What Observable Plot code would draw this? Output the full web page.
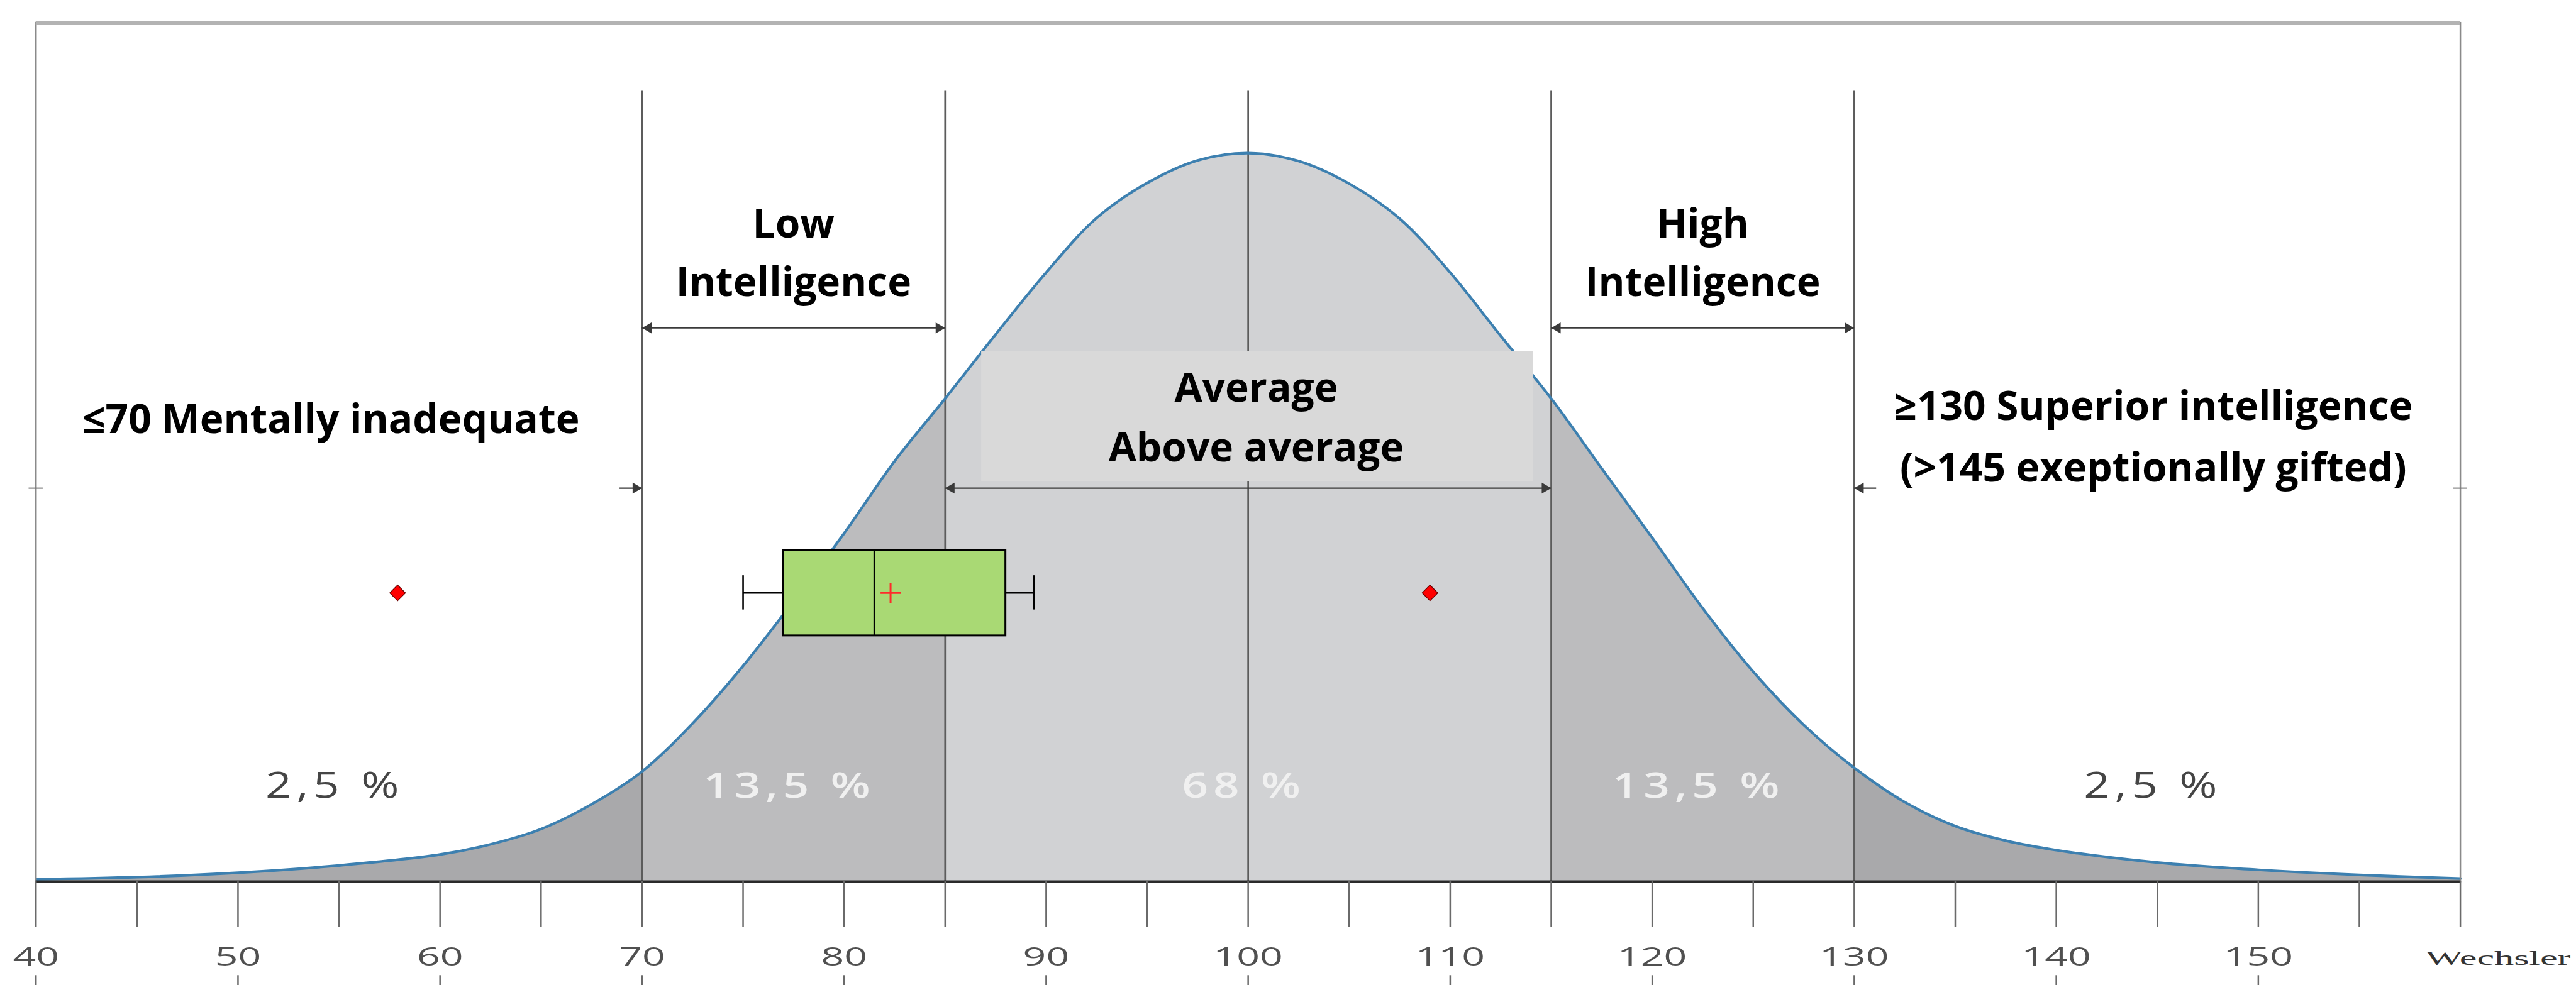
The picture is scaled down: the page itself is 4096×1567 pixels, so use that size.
<!DOCTYPE html>
<html><head><meta charset="utf-8">
<script src="https://cdn.jsdelivr.net/npm/d3@7"></script>
<script src="https://cdn.jsdelivr.net/npm/@observablehq/plot@0.6"></script>
<style>html,body{margin:0;padding:0;background:#fff;overflow:hidden}#chart svg{display:block}</style>
</head><body><div id="chart"></div>
<script>
// ---------- data ----------
// IQ (Wechsler) scores and curve height, in % of the peak height
const iqScore = [40,45,50,55,60,62.5,65,67.5,70,72.5,75,77.5,80,82.5,85,87.5,90,92.5,95,97.5,100,102.5,105,107.5,110,112.5,115,117.5,120,122.5,125,127.5,130,132.5,135,137.5,140,145,150,155,160];
const curveHeight = [0.3,0.6,1.2,2.2,3.7,5.1,7.2,10.6,15.1,21.7,29.6,38.5,47.8,57.7,66.3,75.1,83.6,91.1,95.9,99.0,100,98.9,95.8,91.0,83.6,74.9,66.3,56.7,47.2,37.5,28.8,21.5,15.6,10.9,7.6,5.6,4.3,2.6,1.6,0.9,0.4];
const zoneEdges = [40,70,85,115,130,160];
const zoneShare = ["2,5 %","13,5 %","68 %","13,5 %","2,5 %"];
const dividers = [70,85,100,115,130];
// box plot of the sample
const whiskerLow = 75, q1 = 77, median = 81.5, q3 = 88, whiskerHigh = 89.4, meanScore = 82.3;
const outliers = [57.9, 109.0];
// texts
const lowLabel = ["Low","Intelligence"];
const highLabel = ["High","Intelligence"];
const avgLabel = ["Average","Above average"];
const leftLabel = ["≤70 Mentally inadequate"];
const rightLabel = ["≥130 Superior intelligence","(>145 exeptionally gifted)"];
const xTicks = [40,45,50,55,60,65,70,75,80,85,90,95,100,105,110,115,120,125,130,135,140,145,150,155,160];
const xTickLabels = [40,50,60,70,80,90,100,110,120,130,140,150];
const axisTitle = "Wechsler";

// ---------- layout ----------
const W = 4096, H = 1567;
const yTop = 117.9;
const rows = iqScore.map((x, i) => ({x, y: curveHeight[i]}));
const zoneFill = ["#a9a9ab","#bcbcbe","#d1d2d4","#bcbcbe","#a9a9ab"];
const zones = zoneShare.map((p, i) => ({x1: zoneEdges[i], x2: zoneEdges[i+1], mid: (zoneEdges[i] + zoneEdges[i+1]) / 2, pct: p, i}));
const mid = (a, b) => (a + b) / 2;
const boldText = {fontFamily: "Open Sans", fontWeight: 700, fontSize: 64, fill: "#000", textAnchor: "middle", lineAnchor: "middle"};
const boxY = 39.62, boxY1 = 33.74, boxY2 = 45.5, capY1 = 37.3, capY2 = 42.0;
const lowArrowY = 76.0, avgArrowY = 54.0;
const arrowColor = "#3a3a3a";
const curveType = "catmull-rom";

const marks = [];
zones.forEach(z => marks.push(Plot.areaY(rows.filter(d => d.x >= z.x1 && d.x <= z.x2), {x: "x", y: "y", fill: zoneFill[z.i], curve: curveType})));
marks.push(Plot.ruleX(dividers, {y1: 0, y2: 108.6, stroke: "#5c5c5c", strokeWidth: 2.7}));
marks.push(Plot.lineY(rows, {x: "x", y: "y", stroke: "#3d80b0", strokeWidth: 4.2, curve: curveType}));
marks.push(Plot.frame({stroke: "#8a8a8a", strokeWidth: 2.5}));
marks.push(Plot.ruleY([yTop], {stroke: "#b3b3b3", strokeWidth: 6}));
marks.push(Plot.ruleY([0], {stroke: "#2a2a2a", strokeWidth: 3.5}));
// frame stubs
marks.push(Plot.ruleY([avgArrowY], {x1: 39.65, x2: 40.35, stroke: "#777", strokeWidth: 2}));
marks.push(Plot.ruleY([avgArrowY], {x1: 159.65, x2: 160.35, stroke: "#777", strokeWidth: 2}));
// arrows
const spans = [{a: 70, b: 85, y: lowArrowY}, {a: 115, b: 130, y: lowArrowY}, {a: 85, b: 115, y: avgArrowY}, {a: 68.9, b: 70, y: avgArrowY, one: true}, {a: 130, b: 131.1, y: avgArrowY, one: "left"}];
marks.push(Plot.ruleY(spans, {y: "y", x1: "a", x2: "b", stroke: arrowColor, strokeWidth: 2.2}));
const headsRight = spans.filter(s => s.one !== "left").map(s => ({x: s.b, y: s.y}));
const headsLeft = spans.filter(s => s.one !== true).map(s => ({x: s.a, y: s.y}));
marks.push(Plot.dot(headsRight, {x: "x", y: "y", symbol: "triangle", rotate: 90, r: 6.5, fill: arrowColor, dx: -10}));
marks.push(Plot.dot(headsLeft, {x: "x", y: "y", symbol: "triangle", rotate: -90, r: 6.5, fill: arrowColor, dx: 10}));
// average box
marks.push(Plot.rect([{x1: 86.8, x2: 114.1}], {x1: "x1", x2: "x2", y1: 54.9, y2: 72.8, fill: "#d9d9d9"}));
// labels
marks.push(Plot.text([lowLabel[0]], {...boldText, x: mid(70, 85), y: 90.16}));
marks.push(Plot.text([lowLabel[1]], {...boldText, x: mid(70, 85), y: 82.13}));
marks.push(Plot.text([highLabel[0]], {...boldText, x: mid(115, 130), y: 90.16}));
marks.push(Plot.text([highLabel[1]], {...boldText, x: mid(115, 130), y: 82.13}));
marks.push(Plot.text([avgLabel[0]], {...boldText, x: 100.4, y: 67.64}));
marks.push(Plot.text([avgLabel[1]], {...boldText, x: 100.4, y: 59.44}));
marks.push(Plot.text(leftLabel, {...boldText, x: 54.6, y: 63.3}));
marks.push(Plot.text([rightLabel[0]], {...boldText, x: 144.8, y: 65.1}));
marks.push(Plot.text([rightLabel[1]], {...boldText, x: 144.8, y: 56.7}));
// percentages
const pctText = {x: "mid", y: 13.07, text: "pct", fontFamily: "Open Sans", fontSize: 56, textAnchor: "middle", lineAnchor: "middle", dx: -7};
marks.push(Plot.text(zones.filter(z => z.i === 0 || z.i === 4), {...pctText, fill: "#454545"}));
marks.push(Plot.text(zones.filter(z => z.i > 0 && z.i < 4), {...pctText, fill: "#f0f0f0", fontWeight: 600}));
// box plot
marks.push(Plot.ruleY([boxY], {x1: whiskerLow, x2: q1, stroke: "#000", strokeWidth: 2.6}));
marks.push(Plot.ruleY([boxY], {x1: q3, x2: whiskerHigh, stroke: "#000", strokeWidth: 2.6}));
marks.push(Plot.ruleX([whiskerLow, whiskerHigh], {y1: capY1, y2: capY2, stroke: "#000", strokeWidth: 2.6}));
marks.push(Plot.rect([{q1, q3}], {x1: "q1", x2: "q3", y1: boxY1, y2: boxY2, fill: "#a9d974", stroke: "#000", strokeWidth: 3}));
marks.push(Plot.ruleX([median], {y1: boxY1, y2: boxY2, stroke: "#000", strokeWidth: 3}));
marks.push(Plot.dot([meanScore], {x: d => d, y: boxY, symbol: "plus", r: 10.3, stroke: "#ff2a2a", strokeWidth: 3, fill: "none"}));
marks.push(Plot.dot(outliers, {x: d => d, y: boxY, symbol: "diamond2", r: 11.2, fill: "#ff0000", stroke: "#6a0000", strokeWidth: 1.3}));
// axis
marks.push(Plot.axisX({ticks: xTicks, tickSize: 73, tickPadding: 32, tickFormat: d => xTickLabels.includes(d) ? String(d) : "", fontSize: 41, fontFamily: "Open Sans", stroke: "#6a6a6a", fill: "#505050", strokeWidth: 2.5}));
marks.push(Plot.ruleX(xTickLabels, {y1: -12.9, y2: -14.5, stroke: "#6a6a6a", strokeWidth: 2.5}));
marks.push(Plot.text([axisTitle], {x: 160, y: -10.57, dx: 60, fontFamily: "Liberation Serif", fontSize: 32, fill: "#333", textAnchor: "middle", lineAnchor: "middle"}));

const svg = Plot.plot({
  width: W, height: H,
  marginLeft: 56.7, marginRight: 184.4, marginTop: 35.7, marginBottom: 165.2,
  x: {domain: [40, 160]},
  y: {domain: [0, yTop], axis: null},
  style: {background: "#fff", overflow: "visible"},
  marks
});
document.getElementById("chart").append(svg);

function stretch(texts, k) {
  texts.forEach(t => {
    const tr = t.getAttribute("transform");
    if (tr) t.setAttribute("transform", tr + ` scale(${k},1)`);
    else {
      const x = +(t.getAttribute("x") || 0);
      t.setAttribute("x", x / k);
      t.setAttribute("transform", `scale(${k},1)`);
    }
  });
}
const allTexts = Array.from(svg.querySelectorAll("text"));
const tickLabelSet = new Set(xTickLabels.map(String));
stretch(allTexts.filter(t => tickLabelSet.has(t.textContent)), 1.57);
stretch(allTexts.filter(t => t.textContent === axisTitle), 1.95);
const pctTexts = allTexts.filter(t => zoneShare.includes(t.textContent));
pctTexts.forEach(t => t.setAttribute("letter-spacing", "6"));
stretch(pctTexts, 1.3);
</script></body></html>
